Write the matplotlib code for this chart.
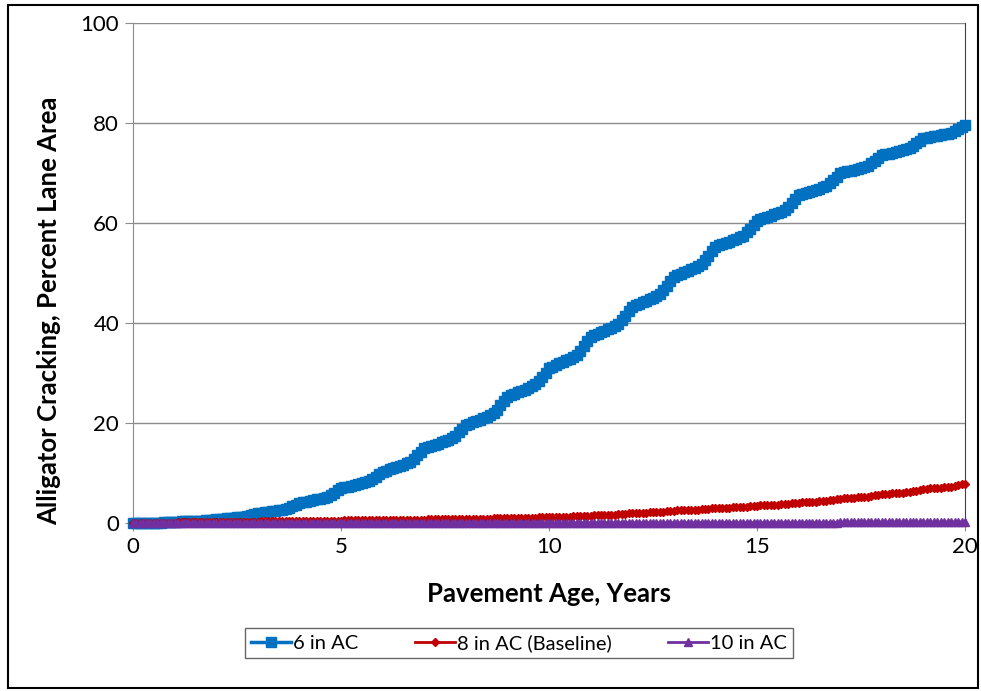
import numpy as np
import matplotlib
matplotlib.use("Agg")
import matplotlib.pyplot as plt
from matplotlib.patches import Rectangle

plt.rcParams['font.family'] = ['Lato', 'DejaVu Sans']

# monthly values, one row per year (12 months), plus the value at age 0
ac6_start = 0.0
ac6_years = [
    [0.0, 0.0, 0.1, 0.1, 0.1, 0.1, 0.1, 0.1, 0.2, 0.2, 0.3, 0.3],
    [0.3, 0.4, 0.4, 0.4, 0.4, 0.5, 0.5, 0.5, 0.6, 0.7, 0.7, 0.8],
    [0.9, 0.9, 1.0, 1.0, 1.1, 1.2, 1.2, 1.3, 1.5, 1.6, 1.8, 2.0],
    [2.1, 2.2, 2.3, 2.4, 2.5, 2.6, 2.7, 2.9, 3.1, 3.4, 3.7, 4.0],
    [4.2, 4.3, 4.5, 4.6, 4.8, 4.9, 5.1, 5.3, 5.7, 6.1, 6.6, 7.0],
    [7.2, 7.3, 7.5, 7.7, 7.8, 8.0, 8.2, 8.4, 8.8, 9.3, 9.8, 10.3],
    [10.5, 10.8, 11.0, 11.2, 11.5, 11.7, 12.0, 12.3, 12.9, 13.6, 14.3, 15.0],
    [15.2, 15.5, 15.7, 15.9, 16.2, 16.4, 16.7, 17.0, 17.5, 18.2, 18.9, 19.6],
    [19.9, 20.2, 20.5, 20.7, 21.0, 21.3, 21.7, 22.1, 22.7, 23.6, 24.5, 25.3],
    [25.6, 25.9, 26.2, 26.4, 26.7, 27.0, 27.4, 27.8, 28.4, 29.3, 30.1, 31.0],
    [31.3, 31.6, 32.0, 32.3, 32.6, 32.9, 33.3, 33.7, 34.5, 35.4, 36.4, 37.3],
    [37.6, 37.9, 38.2, 38.5, 38.8, 39.1, 39.5, 39.9, 40.6, 41.5, 42.4, 43.3],
    [43.6, 43.9, 44.2, 44.5, 44.8, 45.1, 45.5, 45.9, 46.6, 47.5, 48.4, 49.3],
    [49.6, 49.9, 50.2, 50.5, 50.8, 51.1, 51.5, 51.9, 52.6, 53.5, 54.4, 55.3],
    [55.6, 55.8, 56.1, 56.3, 56.6, 56.9, 57.2, 57.5, 58.2, 58.9, 59.7, 60.5],
    [60.8, 61.0, 61.3, 61.5, 61.8, 62.0, 62.3, 62.7, 63.3, 64.1, 64.8, 65.6],
    [65.8, 66.0, 66.3, 66.5, 66.7, 66.9, 67.2, 67.5, 68.0, 68.7, 69.3, 70.0],
    [70.2, 70.4, 70.5, 70.7, 70.9, 71.1, 71.3, 71.5, 72.0, 72.5, 73.1, 73.6],
    [73.8, 73.9, 74.1, 74.3, 74.5, 74.6, 74.8, 75.1, 75.5, 76.0, 76.5, 77.0],
    [77.1, 77.3, 77.4, 77.5, 77.7, 77.8, 77.9, 78.1, 78.4, 78.8, 79.2, 79.6],
]

ac8_start = 0.0
ac8_years = [
    [0.01, 0.01, 0.02, 0.02, 0.03, 0.03, 0.04, 0.04, 0.06, 0.07, 0.09, 0.10],
    [0.11, 0.11, 0.12, 0.12, 0.13, 0.13, 0.14, 0.14, 0.16, 0.17, 0.19, 0.20],
    [0.21, 0.21, 0.22, 0.22, 0.23, 0.23, 0.24, 0.24, 0.26, 0.27, 0.29, 0.30],
    [0.31, 0.31, 0.32, 0.32, 0.33, 0.33, 0.34, 0.34, 0.36, 0.37, 0.39, 0.40],
    [0.41, 0.41, 0.42, 0.42, 0.43, 0.43, 0.44, 0.44, 0.46, 0.47, 0.49, 0.50],
    [0.51, 0.51, 0.52, 0.52, 0.53, 0.53, 0.54, 0.54, 0.56, 0.57, 0.59, 0.60],
    [0.61, 0.61, 0.62, 0.62, 0.63, 0.63, 0.64, 0.64, 0.66, 0.67, 0.69, 0.70],
    [0.71, 0.72, 0.72, 0.73, 0.74, 0.75, 0.75, 0.76, 0.78, 0.80, 0.83, 0.85],
    [0.86, 0.87, 0.87, 0.88, 0.89, 0.90, 0.90, 0.91, 0.93, 0.95, 0.98, 1.00],
    [1.01, 1.02, 1.03, 1.04, 1.05, 1.06, 1.07, 1.09, 1.11, 1.14, 1.17, 1.20],
    [1.22, 1.23, 1.25, 1.26, 1.28, 1.29, 1.31, 1.33, 1.37, 1.41, 1.46, 1.50],
    [1.53, 1.55, 1.58, 1.60, 1.63, 1.65, 1.68, 1.72, 1.78, 1.85, 1.93, 2.00],
    [2.03, 2.05, 2.08, 2.10, 2.13, 2.15, 2.18, 2.22, 2.28, 2.35, 2.43, 2.50],
    [2.53, 2.55, 2.58, 2.60, 2.63, 2.65, 2.68, 2.72, 2.78, 2.85, 2.93, 3.00],
    [3.03, 3.05, 3.08, 3.10, 3.13, 3.15, 3.18, 3.22, 3.28, 3.35, 3.43, 3.50],
    [3.53, 3.56, 3.59, 3.62, 3.65, 3.68, 3.72, 3.76, 3.83, 3.92, 4.01, 4.10],
    [4.14, 4.18, 4.22, 4.26, 4.30, 4.34, 4.39, 4.44, 4.54, 4.66, 4.78, 4.90],
    [4.95, 4.99, 5.04, 5.08, 5.13, 5.17, 5.22, 5.29, 5.40, 5.53, 5.67, 5.80],
    [5.85, 5.90, 5.95, 6.00, 6.05, 6.10, 6.16, 6.23, 6.35, 6.50, 6.65, 6.80],
    [6.86, 6.91, 6.97, 7.02, 7.08, 7.13, 7.20, 7.27, 7.41, 7.57, 7.74, 7.90],
]

ac10_start = 0.0
ac10_years = [
    [0.00, 0.00, 0.00, 0.00, 0.00, 0.00, 0.00, 0.00, 0.00, 0.00, 0.00, 0.00],
    [0.01, 0.01, 0.01, 0.01, 0.01, 0.01, 0.01, 0.01, 0.01, 0.01, 0.01, 0.01],
    [0.01, 0.01, 0.01, 0.01, 0.01, 0.01, 0.01, 0.01, 0.02, 0.02, 0.02, 0.02],
    [0.02, 0.02, 0.02, 0.02, 0.02, 0.02, 0.02, 0.02, 0.02, 0.02, 0.02, 0.02],
    [0.02, 0.02, 0.02, 0.02, 0.02, 0.02, 0.02, 0.02, 0.03, 0.03, 0.03, 0.03],
    [0.03, 0.03, 0.03, 0.03, 0.03, 0.03, 0.03, 0.03, 0.03, 0.03, 0.03, 0.03],
    [0.03, 0.03, 0.03, 0.03, 0.03, 0.03, 0.03, 0.03, 0.04, 0.04, 0.04, 0.04],
    [0.04, 0.04, 0.04, 0.04, 0.04, 0.04, 0.04, 0.04, 0.04, 0.04, 0.04, 0.04],
    [0.04, 0.04, 0.04, 0.04, 0.04, 0.04, 0.04, 0.04, 0.05, 0.05, 0.05, 0.05],
    [0.05, 0.05, 0.05, 0.05, 0.05, 0.05, 0.05, 0.05, 0.05, 0.05, 0.05, 0.05],
    [0.05, 0.05, 0.05, 0.05, 0.05, 0.05, 0.05, 0.05, 0.06, 0.06, 0.06, 0.06],
    [0.06, 0.06, 0.06, 0.06, 0.06, 0.06, 0.06, 0.06, 0.06, 0.06, 0.06, 0.06],
    [0.06, 0.06, 0.06, 0.06, 0.06, 0.06, 0.06, 0.06, 0.07, 0.07, 0.07, 0.07],
    [0.07, 0.07, 0.07, 0.07, 0.07, 0.07, 0.07, 0.07, 0.07, 0.07, 0.07, 0.07],
    [0.07, 0.07, 0.07, 0.07, 0.07, 0.07, 0.07, 0.07, 0.08, 0.08, 0.08, 0.08],
    [0.08, 0.08, 0.08, 0.08, 0.08, 0.08, 0.08, 0.08, 0.08, 0.08, 0.08, 0.08],
    [0.08, 0.08, 0.08, 0.08, 0.08, 0.08, 0.08, 0.08, 0.09, 0.09, 0.09, 0.20],
    [0.20, 0.20, 0.20, 0.20, 0.20, 0.20, 0.20, 0.20, 0.21, 0.21, 0.21, 0.21],
    [0.21, 0.21, 0.21, 0.21, 0.21, 0.21, 0.21, 0.21, 0.22, 0.22, 0.22, 0.22],
    [0.22, 0.22, 0.22, 0.22, 0.22, 0.22, 0.22, 0.22, 0.23, 0.23, 0.23, 0.23],
]

labels = ["6 in AC", "8 in AC (Baseline)", "10 in AC"]
colors = ["#0070C0", "#C00000", "#7030A0"]

ac6 = [ac6_start] + [v for row in ac6_years for v in row]
ac8 = [ac8_start] + [v for row in ac8_years for v in row]
ac10 = [ac10_start] + [v for row in ac10_years for v in row]
age = np.arange(len(ac6)) / 12.0

fig = plt.figure(figsize=(9.81, 6.91), dpi=100)
ax = fig.add_axes([133 / 981, 168 / 691, 832 / 981, 500 / 691])

ax.plot(age, ac6, color=colors[0], marker="s", markersize=7.5, linewidth=2.5,
        label=labels[0], clip_on=False, zorder=3)
ax.plot(age, ac8, color=colors[1], marker="D", markersize=4.5, linewidth=2,
        label=labels[1], clip_on=False, zorder=4)
ax.plot(age, ac10, color=colors[2], marker="^", markersize=6, linewidth=2,
        label=labels[2], clip_on=False, zorder=5)

ax.set_xlim(0, 20)
ax.set_ylim(0, 100)
ax.set_xticks([0, 5, 10, 15, 20])
ax.set_yticks([0, 20, 40, 60, 80, 100])
ax.yaxis.grid(True, color="#8c8c8c", linewidth=1)
ax.set_axisbelow(True)

for side in ["left", "bottom"]:
    ax.spines[side].set_color("#8c8c8c")
ax.spines["top"].set_visible(False)
ax.spines["right"].set_color("#404040")
ax.tick_params(direction="out", length=6, color="#8c8c8c", labelsize=16, pad=4)

ax.set_xlabel("Pavement Age, Years", fontsize=18.5, fontweight="bold", labelpad=18)
ax.set_ylabel("Alligator Cracking, Percent Lane Area", fontsize=18.5,
              fontweight="bold")
ax.yaxis.set_label_coords(-0.0865, 0.424)

leg = fig.legend(loc="center", bbox_to_anchor=(519 / 981, 1 - 643 / 691),
                 ncol=3, fontsize=14.5, frameon=True, fancybox=False,
                 edgecolor="#404040", handlelength=2.0, handletextpad=0.1,
                 columnspacing=2.8, borderpad=0.3)
leg.get_frame().set_linewidth(1)

fig.patches.append(Rectangle((8 / 981, 3 / 691), 970 / 981, 683 / 691,
                             transform=fig.transFigure, fill=False,
                             edgecolor="black", linewidth=1.5))

plt.savefig("out.png", dpi=100)
